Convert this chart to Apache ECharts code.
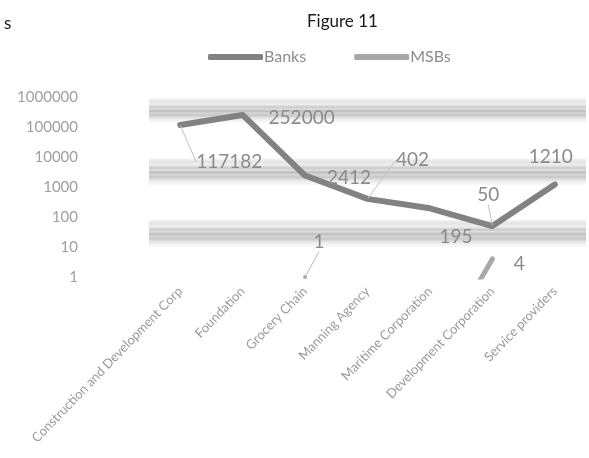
<!DOCTYPE html>
<html>
<head>
<meta charset="utf-8">
<script src="https://cdn.jsdelivr.net/npm/echarts@6/dist/echarts.min.js"></script>
<style>
  html, body { margin: 0; padding: 0; background: #ffffff; }
  #chart { width: 589px; height: 458px; }
</style>
</head>
<body>
<div id="chart"></div>
<script>
// Categories on the x axis
const categories = [
  'Construction and Development Corp',
  'Foundation',
  'Grocery Chain',
  'Manning Agency',
  'Maritime Corporation',
  'Development Corporation',
  'Service providers'
];

// Series values
const banks = [117182, 252000, 2412, 402, 195, 50, 1210];
const msbs = [null, null, 1, null, 0.001, 4, null];
const msbLabelled = [false, false, true, false, false, true, false];

// Log axis tick labels
const yTicks = [1, 10, 100, 1000, 10000, 100000, 1000000];

// Shaded gridline bands (value ranges on the log axis)
const bands = [[140000, 900000], [1150, 9000], [10, 80]];

// Label nudges in pixels relative to each point, plus leader-line flags
const bankLabelShift = [[49, 37], [59, 3], [44, 2], [45, -39], [26, 29], [-4, -31], [-4, -28]];
const bankLeader = [true, false, false, true, false, true, false];
const msbLabelShift = [null, null, [14, -35], null, null, [27, 5], null];
const msbLeader = [false, false, true, false, false, false, false];

const FONT = 'Lato, "Open Sans", sans-serif';

const bandGradient = () => new echarts.graphic.LinearGradient(0, 0, 0, 1, [
  { offset: 0.00, color: 'rgba(238,238,238,0.6)' },
  { offset: 0.12, color: '#e4e4e4' },
  { offset: 0.25, color: '#eeeeee' },
  { offset: 0.36, color: '#c9c9c9' },
  { offset: 0.44, color: '#e0e0e0' },
  { offset: 0.52, color: '#bcbcbc' },
  { offset: 0.60, color: '#d6d6d6' },
  { offset: 0.70, color: '#c8c8c8' },
  { offset: 0.82, color: '#e8e8e8' },
  { offset: 1.00, color: 'rgba(244,244,244,0.5)' }
]);

const bankData = banks.map((v, i) => ({
  value: v,
  labelLine: { show: bankLeader[i] }
}));

const msbData = msbs.map((v, i) => ({
  value: v,
  label: { show: msbLabelled[i] },
  labelLine: { show: msbLeader[i] },
  symbolSize: msbLabelled[i] ? 4 : 0
}));

const chart = echarts.init(document.getElementById('chart'), null, { renderer: 'canvas' });

chart.setOption({
  animation: false,
  backgroundColor: '#ffffff',
  textStyle: { fontFamily: FONT },
  title: [
    {
      text: 'Figure 11',
      left: 302,
      top: 8,
      textStyle: { fontFamily: FONT, fontSize: 17, fontWeight: 'normal', color: '#1a1a1a' }
    },
    {
      text: 's',
      left: -1,
      top: 10,
      textStyle: { fontFamily: FONT, fontSize: 17, fontWeight: 'normal', color: '#1a1a1a' }
    }
  ],
  legend: {
    left: 203,
    top: 44,
    itemWidth: 55,
    itemHeight: 6,
    itemGap: 48,
    icon: 'roundRect',
    textStyle: { fontFamily: FONT, fontSize: 16, color: '#8c8c8c', padding: [0, 0, 0, -4] },
    data: ['Banks', 'MSBs']
  },
  grid: { left: 149, right: 3, top: 97, bottom: 181 },
  xAxis: {
    type: 'category',
    data: categories,
    boundaryGap: true,
    axisLine: { show: false },
    axisTick: { show: false },
    splitLine: { show: false },
    axisLabel: {
      interval: 0,
      rotate: 46,
      margin: 12,
      fontFamily: FONT,
      fontSize: 13,
      color: '#9a9a9a'
    }
  },
  yAxis: {
    type: 'log',
    logBase: 10,
    min: yTicks[0],
    max: yTicks[yTicks.length - 1],
    splitNumber: yTicks.length - 1,
    axisLine: { show: false },
    axisTick: { show: false },
    splitLine: { show: false },
    axisLabel: {
      margin: 71,
      fontFamily: FONT,
      fontSize: 15,
      color: '#a0a0a0',
      formatter: v => String(Math.round(v))
    }
  },
  series: [
    {
      name: 'Banks',
      type: 'line',
      data: bankData,
      symbol: 'circle',
      symbolSize: 1,
      showSymbol: true,
      clip: true,
      z: 3,
      itemStyle: { color: '#828282' },
      lineStyle: { width: 6, color: '#828282', cap: 'round', join: 'round' },
      label: {
        show: true,
        position: 'inside',
        fontFamily: FONT,
        fontSize: 19,
        color: '#8a8a8a'
      },
      labelLine: { show: true, lineStyle: { color: '#c2c2c2', width: 1 } },
      labelLayout: p => {
        const s = bankLabelShift[p.dataIndex];
        return { dx: s[0], dy: s[1] };
      },
      markArea: {
        silent: true,
        z: 1,
        data: bands.map(b => [
          { yAxis: b[1], itemStyle: { color: bandGradient() } },
          { yAxis: b[0] }
        ])
      }
    },
    {
      name: 'MSBs',
      type: 'line',
      data: msbData,
      symbol: 'circle',
      showSymbol: true,
      connectNulls: false,
      clip: true,
      z: 2,
      itemStyle: { color: '#a8a8a8' },
      lineStyle: { width: 5, color: '#a8a8a8', cap: 'round', join: 'round' },
      label: {
        show: true,
        position: 'inside',
        fontFamily: FONT,
        fontSize: 19,
        color: '#8a8a8a'
      },
      labelLine: { show: false, lineStyle: { color: '#b8b8b8', width: 1 } },
      labelLayout: p => {
        const s = msbLabelShift[p.dataIndex];
        return s ? { dx: s[0], dy: s[1] } : {};
      }
    }
  ]
});
</script>
</body>
</html>
